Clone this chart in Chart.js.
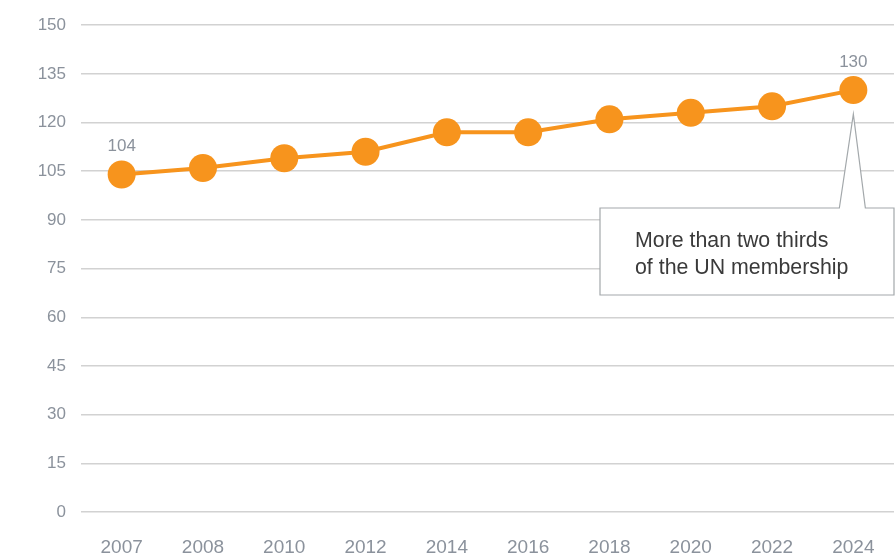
<!DOCTYPE html>
<html>
<head>
<meta charset="utf-8">
<script src="https://cdn.jsdelivr.net/npm/chart.js@4.4.1/dist/chart.umd.min.js"></script>
<style>
    html, body { margin: 0; padding: 0; background: #fff; }
    #wrap { width: 896px; height: 560px; position: relative; }
</style>
</head>
<body>
<div id="wrap"><canvas id="chart"></canvas></div>
<script>
// data
const years = ['2007', '2008', '2010', '2012', '2014', '2016', '2018', '2020', '2022', '2024'];
const countries = [104, 106, 109, 111, 117, 117, 121, 123, 125, 130];
const yTicks = [0, 15, 30, 45, 60, 75, 90, 105, 120, 135, 150];
const calloutLines = ['More than two thirds', 'of the UN membership'];

const FONT = '"Liberation Sans", Arial, sans-serif';
const ORANGE = '#f7941d';
const TICK_GREY = '#8b929c';

// value labels on the first and last point
const endLabels = {
    id: 'endLabels',
    afterDatasetsDraw(chart) {
        const ctx = chart.ctx;
        const pts = chart.getDatasetMeta(0).data;
        ctx.save();
        ctx.font = '17px ' + FONT;
        ctx.fillStyle = TICK_GREY;
        ctx.textAlign = 'center';
        ctx.textBaseline = 'middle';
        [0, pts.length - 1].forEach(i => {
            ctx.fillText(countries[i], pts[i].x, pts[i].y - 28);
        });
        ctx.restore();
    }
};

// speech-bubble note pointing at the last point
const callout = {
    id: 'callout',
    afterDatasetsDraw(chart) {
        const ctx = chart.ctx;
        const pts = chart.getDatasetMeta(0).data;
        const last = pts[pts.length - 1];
        const tipX = last.x, tipY = last.y + 24;
        const left = 600, top = 208, right = 894, bottom = 295;

        ctx.save();
        ctx.beginPath();
        ctx.moveTo(left, top);
        ctx.lineTo(tipX - 14, top);
        ctx.lineTo(tipX, tipY);
        ctx.lineTo(tipX + 12, top);
        ctx.lineTo(right, top);
        ctx.lineTo(right, bottom);
        ctx.lineTo(left, bottom);
        ctx.closePath();
        ctx.fillStyle = '#fff';
        ctx.fill();
        ctx.strokeStyle = '#a3a8ab';
        ctx.lineWidth = 1.2;
        ctx.stroke();

        // the original face is narrower, so squeeze a bit
        ctx.font = '22px ' + FONT;
        ctx.fillStyle = '#3a3a3a';
        ctx.textAlign = 'left';
        ctx.textBaseline = 'middle';
        calloutLines.forEach((line, i) => {
            ctx.save();
            ctx.translate(635, 241 + i * 27);
            ctx.scale(0.97, 1);
            ctx.fillText(line, 0, 0);
            ctx.restore();
        });
        ctx.restore();
    }
};

new Chart(document.getElementById('chart'), {
    type: 'line',
    data: {
        labels: years,
        datasets: [{
            data: countries,
            borderColor: ORANGE,
            backgroundColor: ORANGE,
            borderWidth: 4,
            pointRadius: 14,
            pointHoverRadius: 14,
            pointBorderWidth: 0,
            tension: 0
        }]
    },
    options: {
        responsive: true,
        maintainAspectRatio: false,
        animation: false,
        layout: {
            autoPadding: false,
            padding: { top: 23, right: 2, left: 0, bottom: 0 }
        },
        plugins: {
            legend: { display: false },
            tooltip: { enabled: false }
        },
        scales: {
            x: {
                offset: true,
                // invisible tick marks push the labels down without adding side padding
                grid: {
                    drawOnChartArea: false,
                    drawTicks: true,
                    tickLength: 24,
                    color: 'rgba(0,0,0,0)'
                },
                border: { display: false },
                ticks: {
                    color: TICK_GREY,
                    font: { family: FONT, size: 19 },
                    padding: 0,
                    maxRotation: 0
                },
                afterFit(scale) { scale.height = 48; }
            },
            y: {
                min: 0,
                max: 150,
                grid: { color: '#d2d2d2', lineWidth: 1.5, drawTicks: false },
                border: { display: false },
                afterBuildTicks(scale) {
                    scale.ticks = yTicks.map(v => ({ value: v }));
                },
                ticks: {
                    color: TICK_GREY,
                    font: { family: FONT, size: 17 },
                    padding: 15
                },
                afterFit(scale) { scale.width = 81; }
            }
        }
    },
    plugins: [endLabels, callout]
});
</script>
</body>
</html>
